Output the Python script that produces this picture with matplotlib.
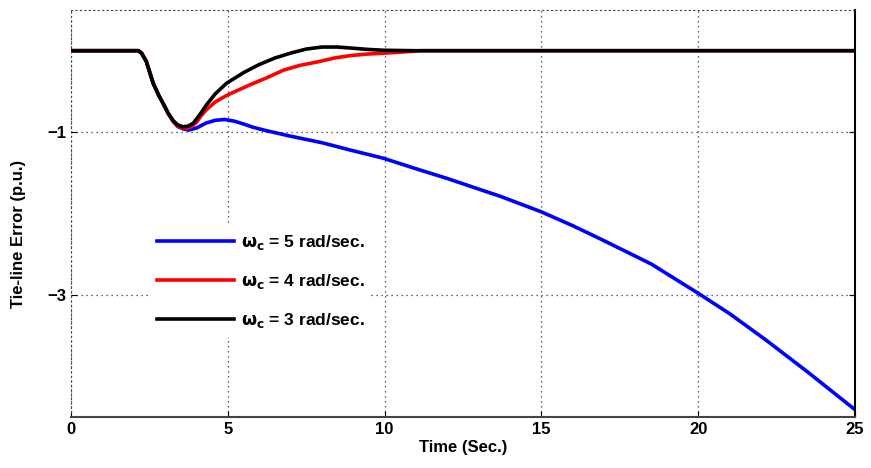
import matplotlib
matplotlib.use("Agg")
import matplotlib.pyplot as plt

plt.rcParams['font.family'] = ['Liberation Sans', 'DejaVu Sans']
plt.rcParams['mathtext.fontset'] = 'dejavusans'

# Time (Sec.)
t_blue = [0, 2.15, 2.25, 2.4, 2.62, 2.8, 2.94, 3.1, 3.26, 3.4, 3.57, 3.75, 4.0, 4.3, 4.6, 4.9,
          5.2, 5.5, 5.8, 6.2, 6.6, 7.0, 7.5, 8.0, 8.9, 9.95, 11.0, 12.0, 13.0, 13.7, 15.0,
          16.0, 16.87, 18.5, 20.0, 21.0, 22.18, 23.5, 25.0]
y_blue = [0, 0, -0.03, -0.13, -0.40, -0.55, -0.65, -0.77, -0.87, -0.93, -0.96, -0.975, -0.95,
          -0.89, -0.855, -0.845, -0.865, -0.90, -0.94, -0.98, -1.015, -1.05, -1.09, -1.13, -1.22,
          -1.32, -1.45, -1.57, -1.70, -1.79, -1.98, -2.15, -2.31, -2.62, -2.98, -3.23, -3.56,
          -3.95, -4.41]

t_red = [0, 2.15, 2.25, 2.4, 2.62, 2.8, 2.94, 3.1, 3.26, 3.4, 3.57, 3.7, 3.85, 4.0, 4.15,
         4.33, 4.6, 4.96, 5.3, 5.7, 6.2, 6.77, 7.3, 7.83, 8.4, 8.9, 9.5, 10.0, 10.6, 11.2, 25.0]
y_red = [0, 0, -0.03, -0.13, -0.40, -0.55, -0.65, -0.77, -0.87, -0.92, -0.95, -0.955, -0.93,
         -0.88, -0.80, -0.72, -0.63, -0.55, -0.49, -0.42, -0.34, -0.24, -0.18, -0.14, -0.09,
         -0.06, -0.04, -0.03, -0.015, 0, 0]

t_black = [0, 2.15, 2.25, 2.4, 2.62, 2.8, 2.94, 3.1, 3.26, 3.4, 3.57, 3.75, 3.9, 4.1, 4.33,
           4.6, 4.96, 5.5, 6.0, 6.5, 7.0, 7.5, 8.0, 8.5, 9.1, 9.5, 10.0, 11.0, 25.0]
y_black = [0, 0, -0.03, -0.13, -0.40, -0.55, -0.65, -0.77, -0.86, -0.91, -0.935, -0.925, -0.89,
           -0.79, -0.66, -0.53, -0.40, -0.27, -0.17, -0.09, -0.03, 0.02, 0.045, 0.045, 0.027,
           0.015, 0.005, 0, 0]

labels = [r'$\mathbf{\omega_c}$ = 5 rad/sec.', r'$\mathbf{\omega_c}$ = 4 rad/sec.',
          r'$\mathbf{\omega_c}$ = 3 rad/sec.']

fig = plt.figure(figsize=(8.71, 4.68), dpi=100)
ax = fig.add_axes([71 / 871, 1 - 417 / 468, 784 / 871, 407 / 468])

ax.plot(t_blue, y_blue, color='#0000ff', lw=2.6, label=labels[0])
ax.plot(t_red, y_red, color='#ff0000', lw=2.6, label=labels[1])
ax.plot(t_black, y_black, color='black', lw=2.6, label=labels[2])

ax.set_xlim(0, 25)
ax.set_ylim(-4.5, 0.5)
ax.set_xticks([0, 5, 10, 15, 20, 25])
ax.set_yticks([-1, -3])
ax.grid(True, color='#333333', linestyle=(0, (1, 3)), linewidth=0.9)
ax.tick_params(direction='in', top=False, right=True, length=4, labelsize=12)
for lab in ax.get_xticklabels() + ax.get_yticklabels():
    lab.set_fontweight('bold')

ax.spines['top'].set_linestyle((0, (1, 3)))
ax.spines['top'].set_color('#444444')
ax.spines['left'].set_linestyle((0, (1, 3)))
ax.spines['left'].set_color('#444444')
ax.spines['bottom'].set_color('#444444')
ax.spines['bottom'].set_linewidth(1.5)
ax.spines['right'].set_linewidth(1.5)

ax.set_xlabel('Time (Sec.)', fontsize=12, fontweight='bold', labelpad=2)
ax.set_ylabel('Tie-line Error (p.u.)', fontsize=12, fontweight='bold')
ax.yaxis.set_label_coords(-0.058, 0.45)

leg = ax.legend(loc='upper left', bbox_to_anchor=(0.09, 0.49), frameon=True,
                edgecolor='none', facecolor='white', framealpha=1, fancybox=False,
                handlelength=4.4, labelspacing=1.15, handletextpad=0.4,
                prop={'weight': 'bold', 'size': 12.5})

fig.savefig('out.png', dpi=100)
